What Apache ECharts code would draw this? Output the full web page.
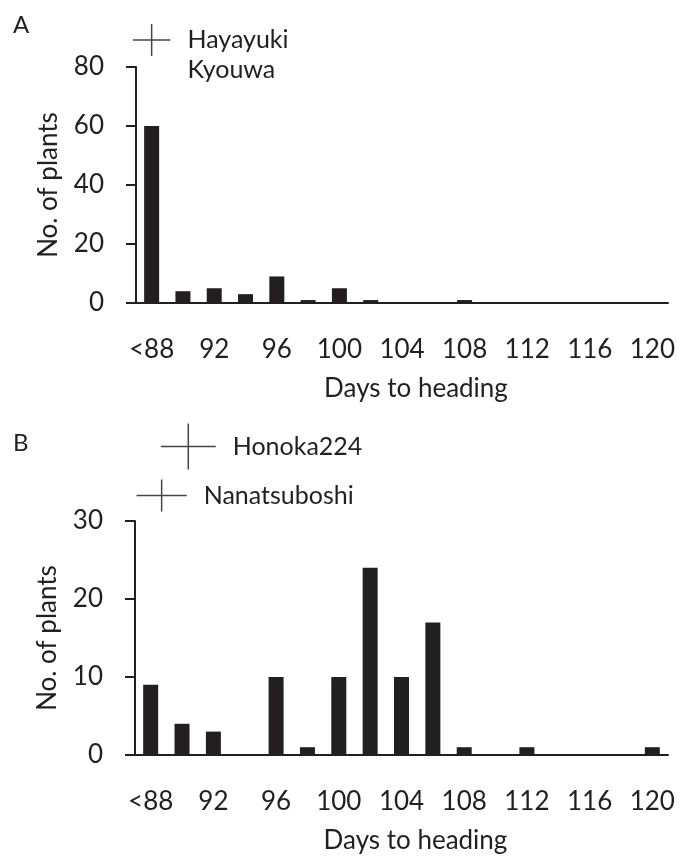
<!DOCTYPE html>
<html>
<head>
<meta charset="utf-8">
<script src="https://cdn.jsdelivr.net/npm/echarts@6/dist/echarts.min.js"></script>
<style>
  html, body { margin: 0; padding: 0; background: #fff; }
  #chart { width: 690px; height: 865px; }
</style>
</head>
<body>
<div id="chart"></div>
<script>
// days to heading classes (2-day bins)
var days = ['<88', '90', '92', '94', '96', '98', '100', '102', '104', '106', '108', '110', '112', '114', '116', '118', '120'];

// number of plants per class
var countsA = [60, 4, 5, 3, 9, 1, 5, 1, 0, 0, 1, 0, 0, 0, 0, 0, 0];
var countsB = [9, 4, 3, 0, 10, 1, 10, 24, 10, 17, 1, 0, 1, 0, 0, 0, 1];

// parents: mean heading (days) and sd, Kyouwa has no cross drawn
var parentsA = ['Hayayuki', 'Kyouwa'];
var parentMeanA = [88.0, null];
var parentSdA = [1.2, null];
var parentsB = ['Honoka224', 'Nanatsuboshi'];
var parentMeanB = [90.4, 88.7];
var parentSdB = [1.75, 1.6];

var ink = '#231f20';
var font = 'Lato';

var myChart = echarts.init(document.getElementById('chart'));

function crossRender(names, means, sds, halfH) {
    return function (params, api) {
        var i = params.dataIndex;
        var j = means[i] != null ? i : i - 1;
        var c = api.coord([means[j], i]);
        var l = api.coord([means[j] - sds[j], i]);
        var r = api.coord([means[j] + sds[j], i]);
        var kids = [{
            type: 'text',
            style: {
                x: r[0] + 17, y: c[1], text: names[i],
                font: '25px ' + font, fill: ink,
                textVerticalAlign: 'middle', verticalAlign: 'middle'
            }
        }];
        if (means[i] != null) {
            var h = halfH[i];
            kids.push({
                type: 'line', shape: { x1: l[0], y1: c[1], x2: r[0], y2: c[1] },
                style: { stroke: '#444', lineWidth: 1.5 }
            });
            kids.push({
                type: 'line', shape: { x1: c[0], y1: c[1] - h, x2: c[0], y2: c[1] + h },
                style: { stroke: '#444', lineWidth: 1.5 }
            });
        }
        return { type: 'group', children: kids };
    };
}

function barX(grid) {
    return {
        type: 'category', gridIndex: grid, data: days,
        axisLine: { lineStyle: { color: ink, width: 2 } },
        axisTick: { interval: 0, length: 10, lineStyle: { color: ink, width: 2 } },
        axisLabel: { interval: 1, margin: 34, color: ink, fontSize: 26, fontFamily: font },
        name: 'Days to heading', nameLocation: 'middle', nameGap: 73,
        nameTextStyle: { color: ink, fontSize: 26, fontFamily: font, padding: [0, 0, 0, 28] }
    };
}

function barY(grid, max, step) {
    return {
        type: 'value', gridIndex: grid, min: 0, max: max, interval: step,
        splitLine: { show: false },
        axisLine: { show: true, lineStyle: { color: ink, width: 2 } },
        axisTick: { show: true, length: 10, lineStyle: { color: ink, width: 2 } },
        axisLabel: { margin: 32, color: ink, fontSize: 26, fontFamily: font },
        name: 'No. of plants', nameLocation: 'middle', nameGap: 74,
        nameTextStyle: { color: ink, fontSize: 26, fontFamily: font }
    };
}

function legendX(grid) {
    return { type: 'value', gridIndex: grid, min: 87, max: 121, show: false };
}

function legendY(grid, names) {
    return { type: 'category', gridIndex: grid, data: names, inverse: true, show: false };
}

option = {
    animation: false,
    title: [
        { text: 'A', left: 8, top: 8, textStyle: { color: ink, fontSize: 24, fontWeight: 'normal', fontFamily: font } },
        { text: 'B', left: 8, top: 426, textStyle: { color: ink, fontSize: 24, fontWeight: 'normal', fontFamily: font } }
    ],
    grid: [
        { left: 136, right: 22, top: 67, height: 236 },
        { left: 135, right: 22, top: 521, height: 234 },
        { left: 136, right: 22, top: 25, height: 60 },
        { left: 135, right: 22, top: 422, height: 98 }
    ],
    xAxis: [barX(0), barX(1), legendX(2), legendX(3)],
    yAxis: [barY(0, 80, 20), barY(1, 30, 10), legendY(2, parentsA), legendY(3, parentsB)],
    series: [
        {
            type: 'bar', xAxisIndex: 0, yAxisIndex: 0, data: countsA,
            barWidth: 15, itemStyle: { color: ink }
        },
        {
            type: 'bar', xAxisIndex: 1, yAxisIndex: 1, data: countsB,
            barWidth: 15, itemStyle: { color: ink }
        },
        {
            type: 'custom', xAxisIndex: 2, yAxisIndex: 2, clip: false,
            renderItem: crossRender(parentsA, parentMeanA, parentSdA, [16, 0]),
            data: parentsA.map(function (n, i) { return [parentMeanA[i] != null ? parentMeanA[i] : parentMeanA[i - 1], i]; })
        },
        {
            type: 'custom', xAxisIndex: 3, yAxisIndex: 3, clip: false,
            renderItem: crossRender(parentsB, parentMeanB, parentSdB, [23, 16]),
            data: parentsB.map(function (n, i) { return [parentMeanB[i], i]; })
        }
    ]
};

myChart.setOption(option);
</script>
</body>
</html>
